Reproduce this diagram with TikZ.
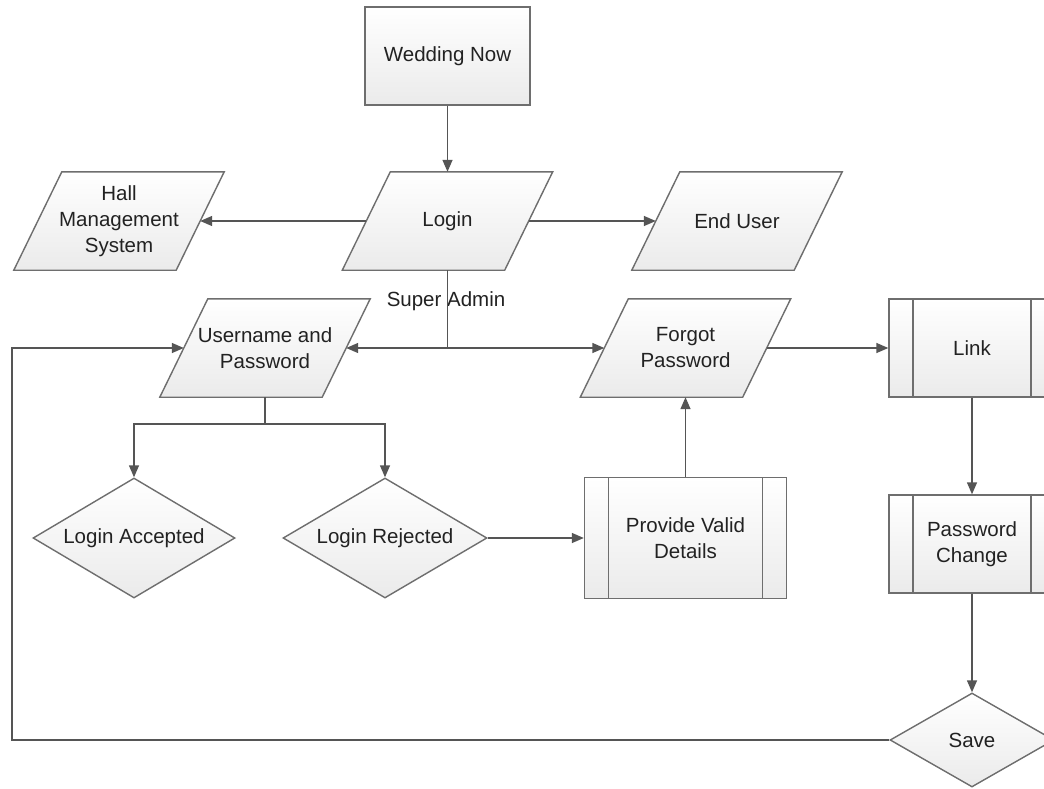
\documentclass[tikz,border=0pt]{standalone}
\usepackage{fontspec}
\setmainfont{Liberation Sans}
\usetikzlibrary{shapes.geometric,arrows.meta,backgrounds}
\definecolor{edge}{HTML}{6E6E6E}
\definecolor{wire}{HTML}{555555}
\definecolor{ink}{HTML}{222222}
% slanted data box drawn around a rectangular node
\newcommand{\slantbox}[1]{%
  \path[shaded] ([xshift=24pt]#1.north west) -- ([xshift=24pt]#1.north east)
    -- ([xshift=-24pt]#1.south east) -- ([xshift=-24pt]#1.south west) -- cycle;}
\begin{document}
\begin{tikzpicture}[x=1pt,y=-1pt,
  every node/.style={font=\fontsize{20.5}{26}\selectfont, text=ink, align=center, inner sep=0pt},
  shaded/.style={draw=edge, line width=1.4pt, top color=white, bottom color=black!8},
  io/.style={rectangle, minimum width=162pt, minimum height=98pt},
  proc/.style={shaded, rectangle},
  sub/.style={shaded, rectangle,
    path picture={\draw[edge, line width=1.4pt]
      ([xshift=24pt]path picture bounding box.north west) -- ([xshift=24pt]path picture bounding box.south west)
      ([xshift=-24pt]path picture bounding box.north east) -- ([xshift=-24pt]path picture bounding box.south east);}},
  choice/.style={shaded, diamond, aspect=1.7},
  wirestyle/.style={draw=wire, line width=1.4pt},
  arr/.style={wirestyle, -{Triangle[length=12pt,width=10pt]}}
]
\useasboundingbox (0,0) rectangle (1044,789);
\clip (0,0) rectangle (1044,789);

% boxes
\node[proc, minimum width=165pt, minimum height=98pt] (wed) at (447.5,56) {Wedding Now};
\node[io] (login) at (447.5,221) {Login};
\node[io] (hall) at (119,221) {Hall\\Management\\System};
\node[io] (end) at (737,221) {End User};
\node[io] (user) at (265,348) {Username and\\Password};
\node[io] (forgot) at (685.5,348) {Forgot\\Password};
\node[sub, minimum width=166pt, minimum height=98pt] (link) at (972,348) {Link};
\node[sub, minimum width=166pt, minimum height=98pt] (pwchg) at (972,544) {Password\\Change};
\node[sub, minimum width=202pt, minimum height=121pt] (valid) at (685.5,538) {Provide Valid\\Details};
\node[choice, minimum width=202pt, minimum height=120pt] (acc) at (134,538) {Login Accepted};
\node[choice, minimum width=204pt, minimum height=120pt] (rej) at (385,538) {Login Rejected};
\node[choice, minimum width=164pt, minimum height=94pt] (save) at (972,740) {Save};
\node (sa) at (446,301) {Super Admin};

\begin{pgfonlayer}{background}
  \fill[white] (0,0) rectangle (1044,789);
  \slantbox{login}
  \slantbox{hall}
  \slantbox{end}
  \slantbox{user}
  \slantbox{forgot}
\end{pgfonlayer}

% junctions
\coordinate (j) at (447.5,348);
\coordinate (split) at (265,424);
\coordinate (back) at (12,740);

% connectors
\draw[arr] (wed) -- (login);
\draw[arr] (login.west) -- (hall.east);
\draw[arr] (login.east) -- (end.west);
\draw[wirestyle] (login.south) -- (j);
\draw[arr] (j) -- (user.east);
\draw[arr] (j) -- (forgot.west);
\draw[arr] (forgot.east) -- (link.west);
\draw[arr] (link) -- (pwchg);
\draw[arr] (pwchg) -- (save);
\draw[arr] (save.west) -- (back) |- (user.west);
\draw[wirestyle] (user.south) -- (split);
\draw[arr] (split) -| (acc.north);
\draw[arr] (split) -| (rej.north);
\draw[arr] (rej.east) -- (valid.west);
\draw[arr] (valid.north) -- (forgot.south);
\end{tikzpicture}
\end{document}
